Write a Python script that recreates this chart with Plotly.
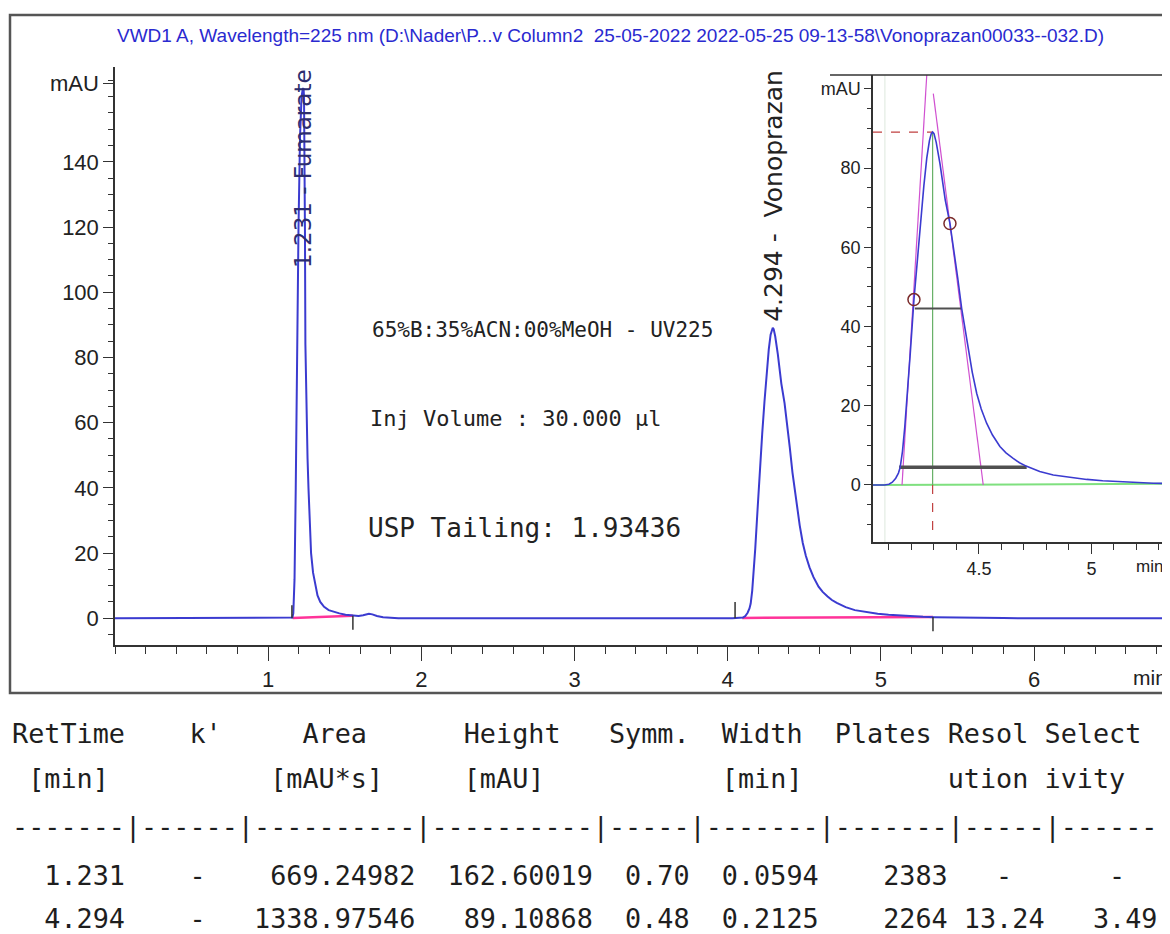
import plotly.graph_objects as go

# page body has an 8px margin: figure fills the rest of the 1170x934 window
OFF = 8
W, H = 1170 - OFF, 934 - OFF

def px(x):
    return (x - OFF) / W

def py(y):
    return (H - (y - OFF)) / H

# ---------------- chromatogram ----------------
time_min = [0.000, 1.150, 1.158, 1.164, 1.172, 1.180, 1.188, 1.198, 1.208, 1.218, 1.226,
            1.231, 1.234, 1.237, 1.240, 1.243, 1.247, 1.252, 1.257, 1.263, 1.271, 1.280,
            1.293, 1.307, 1.322, 1.340, 1.365, 1.395, 1.430, 1.465, 1.505, 1.548, 1.590,
            1.620, 1.642, 1.658, 1.680, 1.710, 1.750, 1.800, 1.850,
            4.030, 4.080, 4.100, 4.115, 4.130, 4.142, 4.150, 4.160, 4.170, 4.180, 4.195,
            4.211, 4.225, 4.240, 4.255, 4.268, 4.280, 4.288, 4.294, 4.300, 4.310, 4.327,
            4.350, 4.371, 4.390, 4.405, 4.423, 4.440, 4.452, 4.470, 4.490, 4.510, 4.534,
            4.560, 4.593, 4.620, 4.652, 4.680, 4.712, 4.770, 4.830, 4.900, 4.979, 5.050,
            5.127, 5.200, 5.275, 5.350, 5.450, 5.550, 5.620, 5.700, 5.800, 6.000, 6.940]
signal_mau = [0.0, 0.0, 0.2, 1.5, 12.0, 40.0, 81.0, 120.0, 148.0, 160.0, 162.4,
              162.6, 160.0, 148.0, 120.0, 84.0, 69.0, 59.0, 49.0, 40.0, 29.0, 20.0,
              14.0, 10.0, 7.0, 5.0, 3.5, 2.5, 1.9, 1.5, 1.1, 0.8, 0.7,
              0.9, 1.2, 1.4, 1.2, 0.7, 0.3, 0.1, 0.0,
              0.0, 0.0, 0.2, 0.7, 1.7, 3.0, 4.5, 8.5, 14.5, 21.5, 33.5,
              46.8, 56.5, 66.5, 75.5, 82.5, 87.0, 88.7, 89.1, 88.7, 86.5, 81.0,
              72.0, 66.0, 59.0, 52.5, 44.6, 38.5, 34.5, 28.5, 23.1, 19.2, 15.6,
              12.6, 9.7, 8.1, 6.7, 5.6, 4.7, 3.4, 2.5, 1.9, 1.4, 1.05,
              0.8, 0.6, 0.45, 0.35, 0.25, 0.2, 0.3, 0.15, 0.05, 0.0, 0.0]

# integration baselines (pink) and their start/end tick marks
baseline1_t = [1.160, 1.553]
baseline1_v = [0.1, 0.8]
baseline2_t = [4.095, 5.340]
baseline2_v = [0.1, 0.4]
mark_t = [1.155, 1.155, None, 1.553, 1.553, None, 4.048, 4.048, None, 5.340, 5.340]
mark_v = [0.0, 4.0, None, 0.8, -3.5, None, 0.0, 5.0, None, 0.4, -4.0]

# inset (tailing evaluation of the Vonoprazan peak)
inset_base_t = [4.029, 5.349]
inset_base_v = [0.0, 0.3]
start_line_t = [4.082, 4.082]
start_line_v = [-14.4, 103.5]
tangent_left_t = [4.158, 4.268]
tangent_left_v = [0.0, 103.5]
tangent_right_t = [4.297, 4.519]
tangent_right_v = [98.8, 0.0]
apex_line_t = [4.294, 4.294]
apex_line_v = [0.0, 89.1]
apex_hdash_t = [4.029, 4.294]
apex_hdash_v = [89.1, 89.1]
apex_vdash_t = [4.294, 4.294]
apex_vdash_v = [0.0, -12.5]
half_width_t = [4.215, 4.423]
half_width_v = [44.55, 44.55]
base_width_t = [4.145, 4.712]
base_width_v = [4.45, 4.45]
inflect_t = [4.211, 4.371]
inflect_v = [46.8, 66.0]

# axis ticks
main_xticks = [1, 2, 3, 4, 5, 6]
main_yticks = [0, 20, 40, 60, 80, 100, 120, 140, 164]
main_ytext = ["0", "20", "40", "60", "80", "100", "120", "140", "mAU"]
inset_xticks = [4.5, 5]
inset_xtext = ["4.5", "5"]
inset_yticks = [0, 20, 40, 60, 80, 100]
inset_ytext = ["0", "20", "40", "60", "80", "mAU"]

# peak table
col_ret = ["1.231", "4.294"]
col_k = ["-", "-"]
col_area = ["669.24982", "1338.97546"]
col_height = ["162.60019", "89.10868"]
col_symm = ["0.70", "0.48"]
col_width = ["0.0594", "0.2125"]
col_plates = ["2383", "2264"]
col_resol = ["-", "13.24"]
col_select = ["-", "3.49"]

title_text = ("VWD1 A, Wavelength=225 nm (D:\\Nader\\P...v Column2  25-05-2022 "
              "2022-05-25 09-13-58\\Vonoprazan00033--032.D)")

NARROW = "Liberation Sans Narrow, Arial Narrow, Liberation Sans, Arial, sans-serif"
SANS = "Liberation Sans, Arial, sans-serif"
MONO = "DejaVu Sans Mono, Liberation Mono, monospace"
BLUE = "#3b3bd0"
PINK = "#ff3399"

fig = go.Figure()

def line(x, y, color, width, xa="x", ya="y", dash="solid"):
    fig.add_trace(go.Scatter(x=x, y=y, mode="lines", xaxis=xa, yaxis=ya,
                             line=dict(color=color, width=width, dash=dash),
                             hoverinfo="skip", showlegend=False))

# main chart
line(baseline1_t, baseline1_v, PINK, 2.5)
line(baseline2_t, baseline2_v, PINK, 2.5)
line(time_min, signal_mau, BLUE, 2)
line(mark_t, mark_v, "#333333", 1.5)

# inset
line(start_line_t, start_line_v, "#dde8dd", 1, "x2", "y2")
line(inset_base_t, inset_base_v, "#7fe07f", 2, "x2", "y2")
line(tangent_left_t, tangent_left_v, "#d050d0", 1.2, "x2", "y2")
line(tangent_right_t, tangent_right_v, "#d050d0", 1.2, "x2", "y2")
line(apex_line_t, apex_line_v, "#66b066", 1.2, "x2", "y2")
line(apex_hdash_t, apex_hdash_v, "#c04040", 1.2, "x2", "y2", "dash")
line(apex_vdash_t, apex_vdash_v, "#c04040", 1.2, "x2", "y2", "dash")
line(half_width_t, half_width_v, "#505050", 2, "x2", "y2")
line(base_width_t, base_width_v, "#505050", 3.5, "x2", "y2")
line(time_min, signal_mau, BLUE, 1.6, "x2", "y2")
fig.add_trace(go.Scatter(x=inflect_t, y=inflect_v, mode="markers", xaxis="x2", yaxis="y2",
                         marker=dict(symbol="circle-open", size=12, color="#7a2a2a",
                                     line=dict(color="#7a2a2a", width=1.5)),
                         hoverinfo="skip", showlegend=False))

axis_common = dict(showgrid=False, zeroline=False, showline=True, linecolor="#333333",
                   linewidth=1.5, ticks="outside", tickcolor="#333333", tickwidth=1.3)

fig.update_layout(
    width=W, height=H,
    margin=dict(l=0, r=0, t=0, b=0),
    paper_bgcolor="white", plot_bgcolor="white",
    xaxis=dict(domain=[px(115), 1.0], range=[0, 6.94 - OFF / 152.0], anchor="y",
               tickmode="array", tickvals=main_xticks, ticklen=14,
               minor=dict(tickmode="linear", tick0=0, dtick=0.2, ticklen=7,
                          ticks="outside", tickcolor="#333333", tickwidth=1.3),
               tickfont=dict(family=SANS, size=22, color="#222222"),
               **axis_common),
    yaxis=dict(domain=[py(645), py(67)], range=[-8.2, 169.1], anchor="x",
               tickmode="array", tickvals=main_yticks, ticktext=main_ytext, ticklen=10,
               minor=dict(tickmode="linear", tick0=0, dtick=5, ticklen=5,
                          ticks="outside", tickcolor="#333333", tickwidth=1.3),
               tickfont=dict(family=SANS, size=22, color="#222222"),
               **axis_common),
    xaxis2=dict(domain=[px(873), 1.0], range=[4.029, 5.349], anchor="y2",
                tickmode="array", tickvals=inset_xticks, ticktext=inset_xtext, ticklen=10,
                minor=dict(tickmode="linear", tick0=0, dtick=0.1, ticklen=6,
                           ticks="outside", tickcolor="#333333", tickwidth=1.2),
                tickfont=dict(family=NARROW, size=18, color="#222222"),
                **axis_common),
    yaxis2=dict(domain=[py(542), py(75)], range=[-14.4, 103.5], anchor="x2",
                tickmode="array", tickvals=inset_yticks, ticktext=inset_ytext, ticklen=7,
                minor=dict(tickmode="linear", tick0=0, dtick=5, ticklen=4,
                           ticks="outside", tickcolor="#333333", tickwidth=1.2),
                tickfont=dict(family=NARROW, size=18, color="#222222"),
                **axis_common),
)

shapes = [
    # outer frame
    dict(type="rect", xref="paper", yref="paper", x0=px(10), x1=px(1185),
         y0=py(693), y1=py(15), line=dict(color="#555555", width=2.5)),
    # inset top border
    dict(type="line", xref="paper", yref="paper", x0=px(830), x1=1.0,
         y0=py(75), y1=py(75), line=dict(color="#333333", width=1.5)),
]
fig.update_layout(shapes=shapes)

ann = []
ann.append(dict(text=title_text, x=px(610), y=py(35), xref="paper", yref="paper",
                showarrow=False, xanchor="center", yanchor="middle",
                font=dict(family=NARROW, size=19, color="#2a2ad0")))
# peak labels
ann.append(dict(text="1.231 - Fumarate", x=1.231, y=138.0, xref="x", yref="y",
                showarrow=False, textangle=-90, xanchor="center", yanchor="middle",
                font=dict(family="DejaVu Sans, sans-serif", size=23, color="#2d2d6e")))
ann.append(dict(text="4.294 -\u00a0 Vonoprazan", x=4.294, y=129.5, xref="x", yref="y",
                showarrow=False, textangle=-90, xanchor="center", yanchor="middle",
                font=dict(family="DejaVu Sans, sans-serif", size=25, color="#222222")))
# method notes
ann.append(dict(text="65%B:35%ACN:00%MeOH - UV225", x=px(370), y=py(330), xref="paper",
                yref="paper", showarrow=False, xanchor="left", yanchor="middle",
                font=dict(family=MONO, size=21, color="#222222")))
ann.append(dict(text="Inj Volume : 30.000 \u00b5l", x=px(368), y=py(418), xref="paper",
                yref="paper", showarrow=False, xanchor="left", yanchor="middle",
                font=dict(family=MONO, size=22, color="#222222")))
ann.append(dict(text="USP Tailing: 1.93436", x=px(366), y=py(528), xref="paper",
                yref="paper", showarrow=False, xanchor="left", yanchor="middle",
                font=dict(family=MONO, size=26, color="#222222")))
# axis unit labels at the right edge
ann.append(dict(text="min", x=px(1131), y=py(678), xref="paper", yref="paper",
                showarrow=False, xanchor="left", yanchor="middle",
                font=dict(family=SANS, size=21, color="#222222")))
ann.append(dict(text="min", x=px(1134), y=py(566), xref="paper", yref="paper",
                showarrow=False, xanchor="left", yanchor="middle",
                font=dict(family=NARROW, size=17, color="#222222")))

# ---------------- peak table ----------------
NCH = 71

def put(buf, idx, text):
    for i, ch in enumerate(text):
        if 0 <= idx + i < len(buf):
            buf[idx + i] = ch

def render(buf):
    return "".join(buf).replace(" ", "\u00a0")

def new():
    return [" "] * NCH

h1 = new()
for idx, t in [(0, "RetTime"), (11, "k'"), (18, "Area"), (28, "Height"), (37, "Symm."),
               (44, "Width"), (51, "Plates"), (58, "Resol"), (64, "Select")]:
    put(h1, idx, t)
h2 = new()
for idx, t in [(1, "[min]"), (16, "[mAU*s]"), (28, "[mAU]"), (44, "[min]"),
               (58, "ution"), (64, "ivity")]:
    put(h2, idx, t)
dash_widths = [7, 6, 10, 10, 5, 7, 7, 5, 6]
sep = "|".join("-" * w for w in dash_widths)

rows = []
for i in range(len(col_ret)):
    b = new()
    put(b, 7 - len(col_ret[i]), col_ret[i])
    put(b, 11, col_k[i])
    put(b, 25 - len(col_area[i]), col_area[i])
    put(b, 36 - len(col_height[i]), col_height[i])
    put(b, 42 - len(col_symm[i]), col_symm[i])
    put(b, 44, col_width[i])
    put(b, 58 - len(col_plates[i]), col_plates[i])
    put(b, 61 if col_resol[i] == "-" else 59, col_resol[i])
    put(b, 68 if col_select[i] == "-" else 71 - len(col_select[i]), col_select[i])
    rows.append(render(b))

table_lines = [(render(h1), 733), (render(h2), 778), (sep, 827), (rows[0], 875), (rows[1], 918)]
for text, yy in table_lines:
    ann.append(dict(text=text, x=px(10), y=py(yy), xref="paper", yref="paper",
                    showarrow=False, xanchor="left", yanchor="middle",
                    font=dict(family=MONO, size=26.8, color="#1e1e1e")))

fig.update_layout(annotations=ann)
fig.write_html("out.html")
